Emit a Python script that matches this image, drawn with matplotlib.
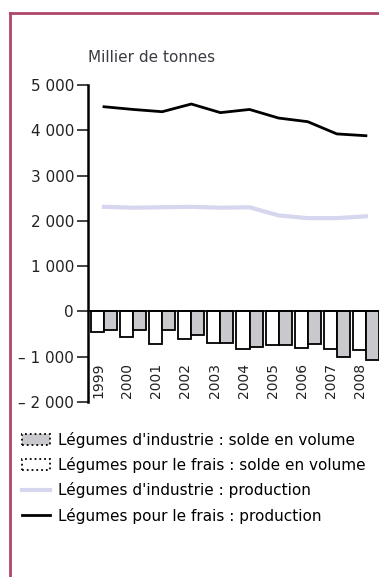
import numpy as np
import matplotlib
matplotlib.use('Agg')
import matplotlib.pyplot as plt
from matplotlib.patches import Patch
from matplotlib.lines import Line2D

plt.rcParams['font.family'] = ['DejaVu Sans']

years = ['1999', '2000', '2001', '2002', '2003', '2004', '2005', '2006', '2007', '2008']
# milliers de tonnes
solde_industrie = [-400, -400, -400, -530, -690, -775, -750, -720, -1000, -1080]
solde_frais = [-450, -560, -720, -610, -690, -820, -740, -800, -830, -850]
prod_industrie = [2310, 2290, 2300, 2310, 2290, 2300, 2120, 2060, 2060, 2100]
prod_frais = [4520, 4460, 4410, 4580, 4390, 4460, 4270, 4190, 3920, 3880]

labels = ["Légumes d'industrie : solde en volume",
          "Légumes pour le frais : solde en volume",
          "Légumes d'industrie : production",
          "Légumes pour le frais : production"]

gris = '#c9c9cd'
lavande = '#d6d6ee'
cadre = '#b0466a'

fig = plt.figure(figsize=(3.79, 5.77), dpi=100)
ax = fig.add_axes([88/379., 1 - 402/577., 291/379., 317/577.])

pos = np.arange(len(years))
w = 0.45
ax.bar(pos - w/2, solde_frais, width=w, color='white', edgecolor='black', linewidth=1.3, zorder=2)
ax.bar(pos + w/2, solde_industrie, width=w, color=gris, edgecolor='black', linewidth=1.3, zorder=2)
ax.plot(pos, prod_industrie, color=lavande, lw=3, zorder=3)
ax.plot(pos, prod_frais, color='black', lw=2, zorder=3)
ax.axhline(0, color='black', lw=1.2, zorder=4)

ax.set_xlim(-0.55, 9.45)
ax.set_ylim(-2000, 5000)
ticks = np.arange(-2000, 5001, 1000)
ax.set_yticks(ticks)
ax.set_yticklabels([('– ' if t < 0 else '') + '{:,}'.format(abs(t)).replace(',', ' ') for t in ticks],
                   fontsize=11)
ax.tick_params(axis='y', length=8, width=1.2, pad=2, colors='#222222')
ax.set_xticks([])
for s in ['top', 'right', 'bottom']:
    ax.spines[s].set_visible(False)
ax.spines['left'].set_linewidth(1.8)

for i, y in enumerate(years):
    ax.text(i - 0.2, -1910, y, rotation=90, ha='center', va='bottom', fontsize=10, color='#222222')

fig.text(88/379., 1 - 57/577., 'Millier de tonnes', fontsize=11, color='#3a3a42', va='center')

handles = [Patch(facecolor=gris, edgecolor='black', linestyle=':', linewidth=1.3),
           Patch(facecolor='white', edgecolor='black', linestyle=':', linewidth=1.3),
           Line2D([], [], color=lavande, lw=3),
           Line2D([], [], color='black', lw=2)]
fig.legend(handles, labels, loc='upper left', bbox_to_anchor=(22/379., 1 - 432/577.),
           frameon=False, fontsize=11, handlelength=1.8, handleheight=0.7,
           handletextpad=0.55, labelspacing=0.6, borderpad=0, borderaxespad=0)

# cadre
fig.add_artist(Line2D([10/379., 1], [1 - 13/577.] * 2, color=cadre, lw=2))
fig.add_artist(Line2D([10/379.] * 2, [0, 1 - 13/577.], color=cadre, lw=2))

fig.savefig('out.png', dpi=100)
